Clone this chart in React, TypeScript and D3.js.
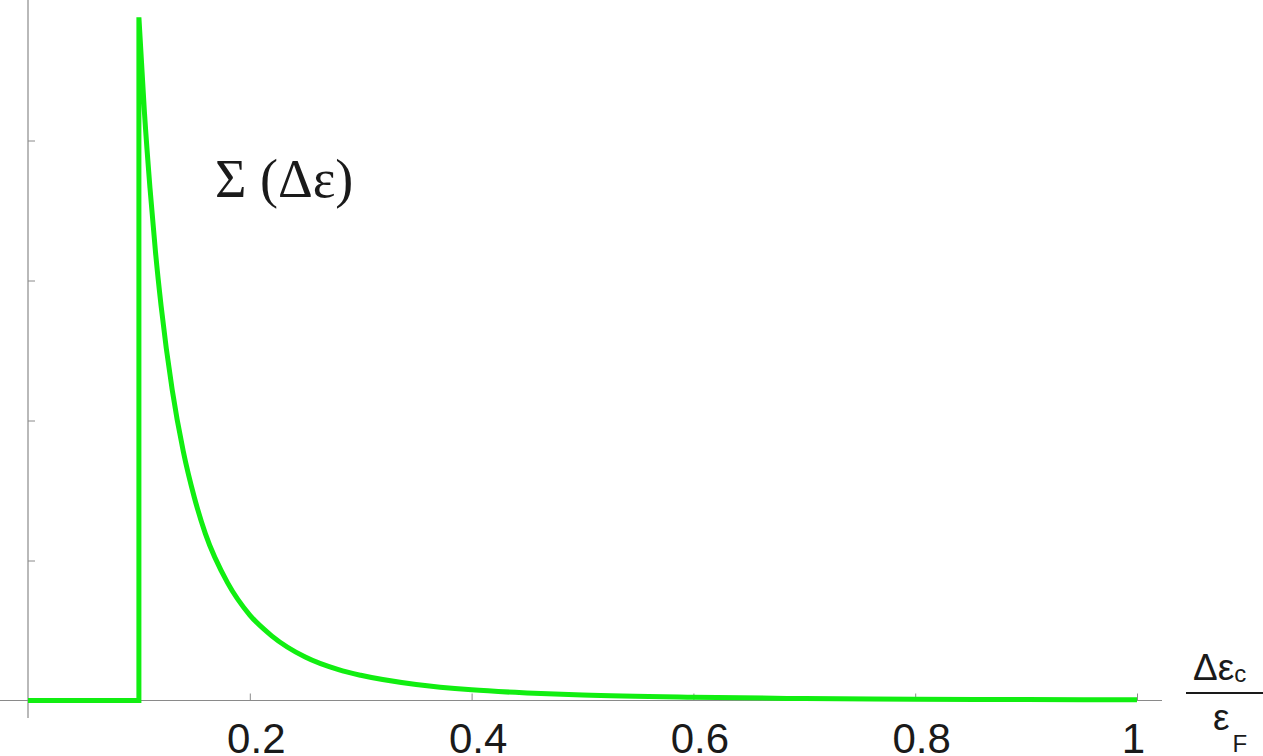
import React, { useEffect, useRef } from "react";
import * as d3 from "d3";

// values (x in units of eps_F, y in y-tick units)
const stepX = [0, 0.1, 0.1];
const stepY = [0, 0, 4.88];
const tailX = [0.1, 0.105, 0.11, 0.115, 0.12, 0.13, 0.14, 0.15, 0.16, 0.18, 0.2, 0.22, 0.25, 0.28, 0.3, 0.35, 0.4, 0.45, 0.5, 0.6, 0.7, 0.8, 0.9, 1.0];
const tailY = [4.88, 4.2, 3.66, 3.2, 2.82, 2.22, 1.78, 1.45, 1.19, 0.84, 0.61, 0.46, 0.31, 0.22, 0.18, 0.114, 0.076, 0.054, 0.039, 0.023, 0.014, 0.0095, 0.0067, 0.0049];
const xTicks = [0.2, 0.4, 0.6, 0.8, 1];
const yTicks = [1, 2, 3, 4];

const W = 1263;
const H = 756;

const App = () => {
  const ref = useRef<SVGSVGElement>(null);

  useEffect(() => {
    const svg = d3.select(ref.current);
    svg.selectAll("*").remove();

    const x = d3.scaleLinear().domain([0, 1]).range([28, 1137]);
    const y = d3.scaleLinear().domain([0, 5]).range([700.5, 0.5]);
    const axisColor = "#8a8a8a";

    // x axis
    const gx = svg.append("g").attr("transform", `translate(0,${y(0)})`);
    gx.call(
      d3
        .axisBottom(x)
        .tickValues(xTicks)
        .tickSizeInner(-7)
        .tickSizeOuter(0)
        .tickFormat((d) => d3.format("~g")(d as number))
    );
    gx.select(".domain").remove();
    gx.selectAll("line").attr("stroke", axisColor);
    gx.selectAll("text")
      .attr("y", 52)
      .attr("dy", null)
      .attr("dx", (d) => ((d as number) === 1 ? -4 : 6))
      .attr("fill", "#1a1a1a")
      .attr("font-family", "Liberation Sans, Arial, sans-serif")
      .attr("font-size", 42);
    gx.append("line")
      .attr("x1", 0)
      .attr("x2", 1162)
      .attr("stroke", axisColor)
      .attr("stroke-width", 1.2);

    // y axis
    const gy = svg.append("g").attr("transform", `translate(${x(0)},0)`);
    gy.call(d3.axisLeft(y).tickValues(yTicks).tickSizeInner(-7).tickSizeOuter(0).tickFormat(() => ""));
    gy.select(".domain").remove();
    gy.selectAll("line").attr("stroke", axisColor);
    gy.append("line")
      .attr("y1", 0)
      .attr("y2", 718)
      .attr("stroke", axisColor)
      .attr("stroke-width", 1.2);

    // curve: step up at 0.1 then the decaying tail
    const step = stepX.map((v, i) => [v, stepY[i]] as [number, number]);
    const tail = tailX.map((v, i) => [v, tailY[i]] as [number, number]);
    const lin = d3.line().x((d) => x(d[0])).y((d) => y(d[1]));
    const smooth = d3
      .line()
      .x((d) => x(d[0]))
      .y((d) => y(d[1]))
      .curve(d3.curveMonotoneX);
    const pathD = (lin(step) || "") + (smooth(tail) || "").replace(/^M/, "L");
    svg
      .append("path")
      .attr("d", pathD)
      .attr("fill", "none")
      .attr("stroke", "#11ee11")
      .attr("stroke-width", 5)
      .attr("stroke-linejoin", "miter")
      .attr("stroke-miterlimit", 20);

    // curve label
    svg
      .append("text")
      .attr("x", 215)
      .attr("y", 197)
      .attr("fill", "#1a1a1a")
      .attr("font-family", "Liberation Serif, DejaVu Serif, Times New Roman, serif")
      .attr("font-size", 54)
      .text("Σ (Δε)");

    // axis label as a fraction
    const lab = svg.append("g").attr("font-family", "Liberation Sans, Arial, sans-serif").attr("fill", "#1a1a1a");
    const num = lab.append("text").attr("x", 1193).attr("y", 680).attr("font-size", 37);
    num.append("tspan").text("Δε");
    num.append("tspan").attr("dy", 2).attr("font-size", 24).text("c");
    lab.append("line")
      .attr("x1", 1186)
      .attr("x2", 1263)
      .attr("y1", 693)
      .attr("y2", 693)
      .attr("stroke", "#1a1a1a")
      .attr("stroke-width", 2);
    const den = lab.append("text").attr("x", 1213).attr("y", 730).attr("font-size", 37);
    den.append("tspan").text("ε");
    den.append("tspan").attr("dy", 22).attr("dx", 3).attr("font-size", 24).text("F");
  }, []);

  return <svg ref={ref} width={W} height={H} style={{ position: "absolute", left: 0, top: 0, background: "#fff" }}></svg>;
};

export default App;
